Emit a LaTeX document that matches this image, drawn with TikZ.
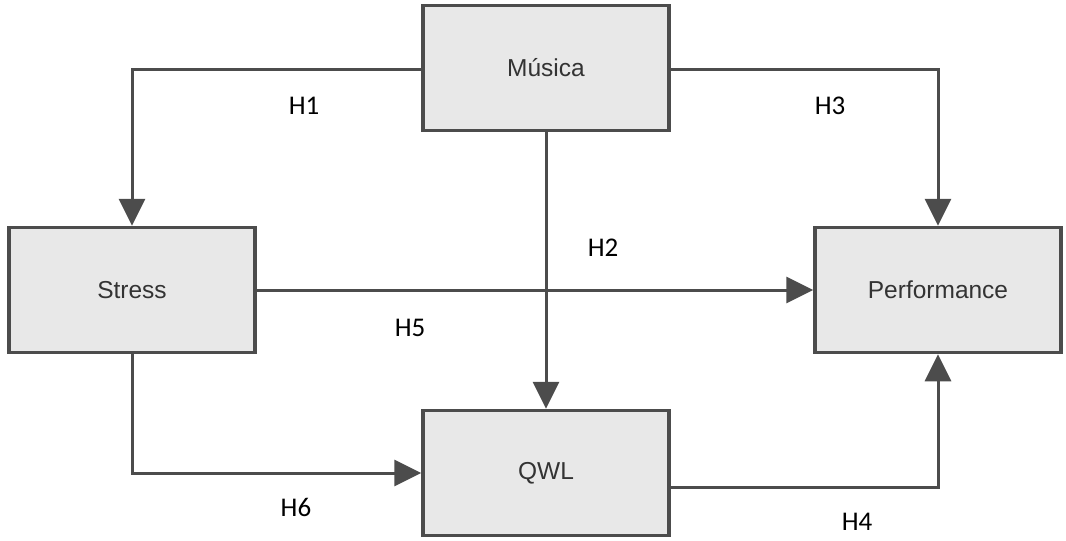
\documentclass[tikz,border=0pt]{standalone}
\usepackage{fontspec}
\setmainfont{Liberation Sans}
\newfontfamily\labfont{Carlito}
\usetikzlibrary{arrows.meta}
\definecolor{boxfill}{HTML}{E8E8E8}
\definecolor{boxline}{HTML}{4C4C4C}
\definecolor{txt}{HTML}{333333}
\begin{document}
\begin{tikzpicture}[x=1pt,y=-1pt,
  box/.style={draw=boxline,fill=boxfill,line width=3.5pt,minimum width=246pt,minimum height=125pt,inner sep=0pt,text=txt,font=\fontsize{24.5}{28}\selectfont},
  conn/.style={draw=boxline,line width=3pt,-{Triangle[length=27pt,width=26pt]}},
  lab/.style={font=\labfont\fontsize{27}{30}\selectfont,text=black,inner sep=0pt}]
\useasboundingbox (0,0) rectangle (1066,541);
\node[box] (mus) at (546,68) {Música};
\node[box] (str) at (132,290) {Stress};
\node[box] (qwl) at (546,473) {QWL};
\node[box] (perf) at (938,290) {Performance};
\coordinate (c1) at (132,69);
\coordinate (c3) at (938,69);
\coordinate (c6) at (132,473);
\coordinate (c4) at (938,487);
\draw[conn] (mus.west |- c1) -- (c1) -- (str.north);
\draw[conn] (mus.east |- c3) -- (c3) -- (perf.north);
\draw[conn] (mus.south) -- (qwl.north);
\draw[conn] (str.east) -- (perf.west);
\draw[conn] (str.south) -- (c6) -- (qwl.west);
\draw[conn] (qwl.east |- c4) -- (c4) -- (perf.south);
\node[lab] (h1) at (304,106) {H1};
\node[lab] (h3) at (830,106) {H3};
\node[lab] (h2) at (603,248) {H2};
\node[lab] (h5) at (410,328) {H5};
\node[lab] (h6) at (296,507) {H6};
\node[lab] (h4) at (857,522) {H4};
\end{tikzpicture}
\end{document}
